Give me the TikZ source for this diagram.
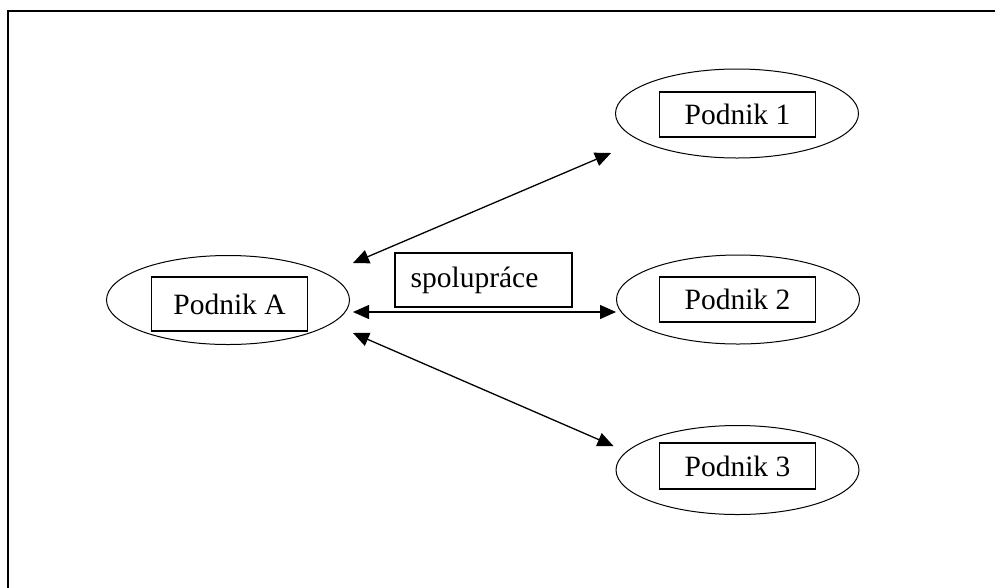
\documentclass[tikz,border=0pt]{standalone}
\usepackage{fontspec}
\setmainfont{Liberation Serif}
\usetikzlibrary{shapes.geometric,arrows.meta}
\begin{document}
\begin{tikzpicture}[x=1pt,y=-1pt,
  firm/.style={draw,ellipse,line width=1pt,inner sep=0pt,minimum width=243pt,minimum height=89pt},
  namebox/.style={draw,rectangle,line width=1.2pt,inner sep=0pt,minimum width=156pt,minimum height=45pt,font=\fontsize{29.5}{35}\selectfont},
  link/.style={line width=1.3pt,{Triangle[length=16pt,width=14pt]}-{Triangle[length=16pt,width=14pt]}},
  frame/.style={line width=2.8pt}]
\useasboundingbox (0,0) rectangle (995,587);
\coordinate (fb) at (8,588);
\coordinate (fc) at (8,11);
\coordinate (fr) at (996,11);
\draw[frame] (fb) -- (fc) -- (fr);

\node[firm] (A) at (228,300) {};
\node[namebox,minimum height=54pt] (bA) at (229.5,304) {Podnik A};

\node[firm] (E1) at (737,113.5) {};
\node[namebox] (b1) at (737.5,114.5) {Podnik 1};

\node[firm] (E2) at (738,299.5) {};
\node[namebox] (b2) at (737.5,299.5) {Podnik 2};

\node[firm] (E3) at (737.5,470) {};
\node[namebox,minimum height=46pt] (b3) at (737.5,466) {Podnik 3};

\node[namebox,minimum width=177pt,minimum height=54pt] (sp) at (483.5,280) {spolupráce\hspace*{18pt}};

\draw[link] ([shift={(3,-37)}]A.east) -- ([shift={(-4,39.5)}]E1.west);
\draw[link] ([shift={(3,12)}]A.east) -- ([shift={(0,12.5)}]E2.west);
\draw[link] ([shift={(3,33)}]A.east) -- ([shift={(-2,-24)}]E3.west);
\end{tikzpicture}
\end{document}
